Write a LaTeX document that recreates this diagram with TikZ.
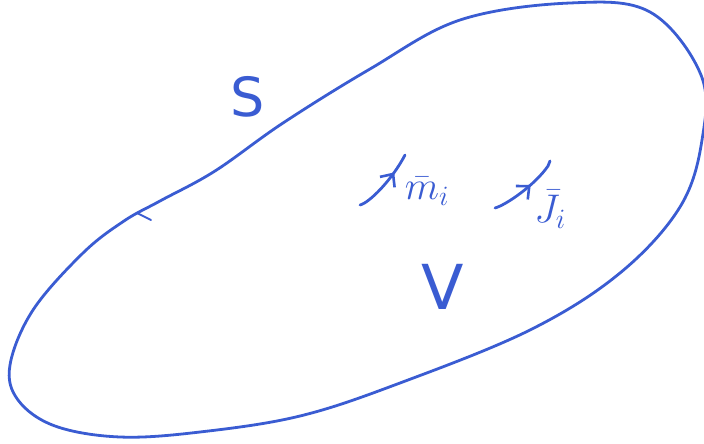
\RequirePackage{fix-cm}
\documentclass[tikz,border=0pt]{standalone}
\usepackage{fontspec}
\setsansfont{DejaVu Sans}
\usetikzlibrary{arrows.meta,decorations.markings}
\definecolor{pen}{RGB}{58,92,210}
\tikzset{
  inkline/.style={draw=pen,line width=2.8pt,line cap=round,line join=round},
  bigletter/.style={text=pen,font=\sffamily\fontsize{54}{58}\selectfont,inner sep=0pt},
  vlabel/.style={text=pen,font=\fontsize{40}{44}\selectfont,inner sep=0pt},
  midarrow/.style={postaction={decorate},decoration={markings,
    mark=at position #1 with {\arrow[pen,line width=2.6pt]{Straight Barb[length=10pt,width=18pt]}}}}
}
\begin{document}
\begin{tikzpicture}[x=1pt,y=-1pt]
\useasboundingbox (0,0) rectangle (704,444);
% closed surface S
\draw[inkline] plot[smooth cycle,tension=0.6] coordinates {
 (160,201) (215,171) (283,123) (370,69) (460,20) (570,3) (650,12) (701,75)
 (702,140) (680,207) (620,273) (530,330) (400,383) (300,416) (200,432)
 (120,437) (55,426) (18,400) (10,365) (33,310) (83,253) (124,221)};
% stray tick on the curve
\coordinate (t1) at (137,213);
\coordinate (t2) at (151,220);
\draw[inkline,line width=1.8pt] (t1) -- (t2);
% labels
\node[bigletter] (S) at (248,97) {S};
\node[bigletter,font=\sffamily\fontsize{62}{66}\selectfont] (V) at (443,287) {V};
% source M
\coordinate (m0) at (360,205);
\coordinate (m1) at (405,155);
\draw[inkline,midarrow=0.7] (m0) .. controls (369,203) and (392,180) .. (m1);
\node[vlabel] (M) at (427,191) {$\bar{m}_{i}$};
% source J
\coordinate (j0) at (495,208);
\coordinate (j1) at (548,166);
\draw[inkline,midarrow=0.58] (j0) .. controls (506,205) and (535,185) .. (j1) -- ++(2,-5);
\node[vlabel] (J) at (550,209) {$\bar{J}_{i}$};
\end{tikzpicture}
\end{document}
